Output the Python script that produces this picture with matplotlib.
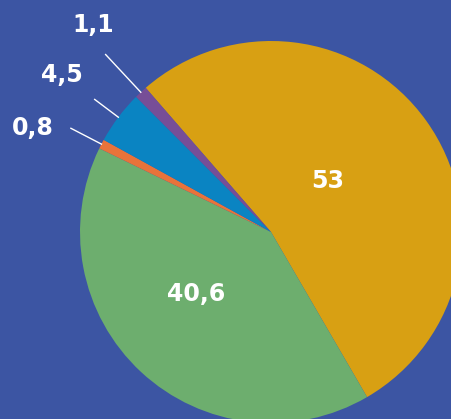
import numpy as np
import matplotlib
matplotlib.use("Agg")
import matplotlib.pyplot as plt

# valores (%) na ordem horária a partir do topo
labels = ["53", "40,6", "0,8", "4,5", "1,1"]
values = [53, 40.6, 0.8, 4.5, 1.1]
colors = ["#D8A013", "#6DAE6E", "#E8733A", "#0A84C2", "#774E97"]

bg = "#3C55A3"
W, H = 452, 419
cx, cy, R = 271, H - 232, 191
start = 131

fig = plt.figure(figsize=(W / 100, H / 100), dpi=100, facecolor=bg)
ax = fig.add_axes([0, 0, 1, 1])
ax.set_facecolor(bg)

ax.pie(values, colors=colors, startangle=start, counterclock=False,
       center=(cx, cy), radius=R, frame=True,
       wedgeprops=dict(linewidth=0))
ax.set_xlim(0, W)
ax.set_ylim(0, H)
ax.set_aspect("equal")
ax.axis("off")

# ângulos médios de cada fatia
total = sum(values)
ends = start - np.cumsum(values) / total * 360
mids = ends + np.array(values) / total * 180

# rótulos internos: (raio do texto, ajuste de ângulo)
inner = {0: (0.40, 6.7), 1: (0.51, -7.4)}
# rótulos externos: (início da linha, raio do texto, ajuste de ângulo)
outer = {2: (1.18, 1.36, 3.8), 3: (1.155, 1.37, 0.0), 4: (1.27, 1.43, -2.3)}

for i, lab in enumerate(labels):
    a = np.deg2rad(mids[i])
    if i in inner:
        rt, da = inner[i]
        at = np.deg2rad(mids[i] + da)
        ax.text(cx + rt * R * np.cos(at), cy + rt * R * np.sin(at), lab,
                color="white", fontsize=17, fontweight="bold",
                ha="center", va="center")
    else:
        r0, rt, da = outer[i]
        ax.plot([cx + R * np.cos(a), cx + r0 * R * np.cos(a)],
                [cy + R * np.sin(a), cy + r0 * R * np.sin(a)],
                color="white", linewidth=1)
        at = np.deg2rad(mids[i] + da)
        ax.text(cx + rt * R * np.cos(at), cy + rt * R * np.sin(at), lab,
                color="white", fontsize=17, fontweight="bold",
                ha="center", va="center")

fig.savefig("out.png", dpi=100, facecolor=bg)
